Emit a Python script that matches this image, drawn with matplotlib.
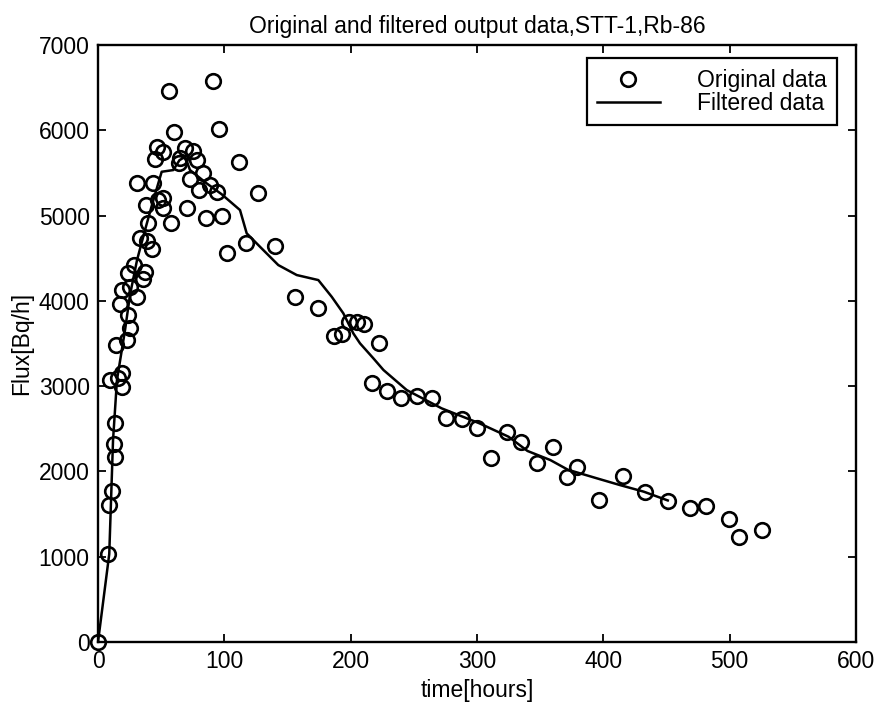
import matplotlib
matplotlib.use("Agg")
import matplotlib.pyplot as plt

plt.rcParams['font.family'] = ['Liberation Sans', 'DejaVu Sans']

# measured points (time in hours, flux in Bq/h)
orig_time = [0, 8.2, 8.9, 10.8, 13.5, 12.9, 13.5, 9.5, 15.8, 18.8, 18.8, 14.5,
             23.0, 25.3, 23.4, 17.4, 18.8, 25.3, 30.6, 24.0, 28.5, 35.9, 37.2,
             33.2, 38.5, 42.7, 39.8, 37.8, 47.7, 51.2, 51.7, 31.1, 43.8, 46.5,
             51.2, 45.4, 57.8, 56.4, 60.4, 68.9, 75.4, 78.1, 64.9, 64.1, 82.9,
             72.8, 80.2, 88.7, 94.0, 70.2, 85.5, 97.9, 91.3, 95.5, 111.8, 126.9,
             101.9, 117.2, 140.1, 155.9, 173.9, 186.8, 192.9, 198.9, 204.8,
             210.6, 222.7, 216.7, 228.5, 239.6, 252.3, 264.6, 275.5, 287.9,
             300.2, 311.1, 324.0, 335.2, 347.5, 359.9, 371.0, 379.2, 396.8,
             415.3, 433.0, 451.0, 468.7, 481.4, 499.2, 507.6, 525.6]
orig_flux = [0, 1028, 1606, 1770, 2173, 2321, 2571, 3072, 3101, 3150, 2990, 3482,
             3541, 3682, 3834, 3963, 4127, 4166, 4049, 4330, 4420, 4253, 4342,
             4733, 4705, 4608, 4916, 5124, 5182, 5085, 5202, 5378, 5378, 5800,
             5749, 5667, 4916, 6464, 5983, 5788, 5760, 5651, 5671, 5613, 5502,
             5425, 5300, 5359, 5273, 5092, 4975, 4995, 6578, 6018, 5631, 5268,
             4564, 4675, 4644, 4041, 3913, 3588, 3611, 3755, 3755,
             3728, 3502, 3040, 2939, 2857, 2884, 2857, 2630, 2611,
             2513, 2154, 2468, 2341, 2095, 2286, 1931, 2052, 1665,
             1946, 1762, 1657, 1575, 1595, 1439, 1228, 1313]

filt_time = [0, 8.9, 11.9, 15.0, 21.4, 25.3, 30.9, 37.2, 42.7, 50.4, 59.6, 64.5,
             69.0, 72.8, 86.0, 97.9, 112.4, 117.7, 128.2, 142.7, 157.3, 174.4,
             185.0, 194.2, 202.1, 207.4, 218.0, 226.0, 244.4, 272.0, 302.0,
             325.0, 340.0, 358.0, 372.0, 395.0, 413.0, 432.0, 451.0]
filt_flux = [0, 1032, 2368, 3072, 3658, 4068, 4479, 4830, 5124, 5514, 5534, 5650,
             5690, 5534, 5378, 5250, 5065, 4792, 4635, 4420, 4303, 4244,
             4048, 3854, 3619, 3502, 3326, 3189, 2954, 2740, 2564,
             2407, 2240, 2134, 2020, 1919, 1841, 1763, 1660]

x_ticks = [0, 100, 200, 300, 400, 500, 600]
y_ticks = [0, 1000, 2000, 3000, 4000, 5000, 6000, 7000]

FS = 16.5

fig = plt.figure(figsize=(8.79, 7.08), dpi=100)
ax = fig.add_axes([0.1115, 0.0932, 0.8623, 0.8432])

ax.plot(orig_time, orig_flux, linestyle='none', marker='o', markersize=10.5,
        markerfacecolor='none', markeredgecolor='black', markeredgewidth=1.9,
        clip_on=False, label='Original data')
ax.plot(filt_time, filt_flux, color='black', linewidth=1.8, label='Filtered data')

ax.set_xlim(0, 600)
ax.set_ylim(0, 7000)
ax.set_xticks(x_ticks)
ax.set_yticks(y_ticks)
ax.tick_params(direction='in', length=6, width=1.3, top=True, right=True,
               labelsize=FS, pad=6, colors='black')
for s in ax.spines.values():
    s.set_linewidth(1.7)

ax.set_xlabel('time[hours]', fontsize=FS, labelpad=4)
ax.set_ylabel('Flux[Bq/h]', fontsize=FS, labelpad=4)
ax.set_title('Original and filtered output data,STT-1,Rb-86', fontsize=FS, pad=9)

# matlab-style box legend in the top right corner
leg = ax.legend(loc='upper right', bbox_to_anchor=(0.9745, 0.9777),
                borderaxespad=0, fontsize=FS, handlelength=2.75,
                handletextpad=1.6, labelspacing=0.0, borderpad=0.45,
                fancybox=False, framealpha=1)
leg.get_frame().set_edgecolor('black')
leg.get_frame().set_linewidth(1.6)

fig.savefig('out.png', dpi=100)
